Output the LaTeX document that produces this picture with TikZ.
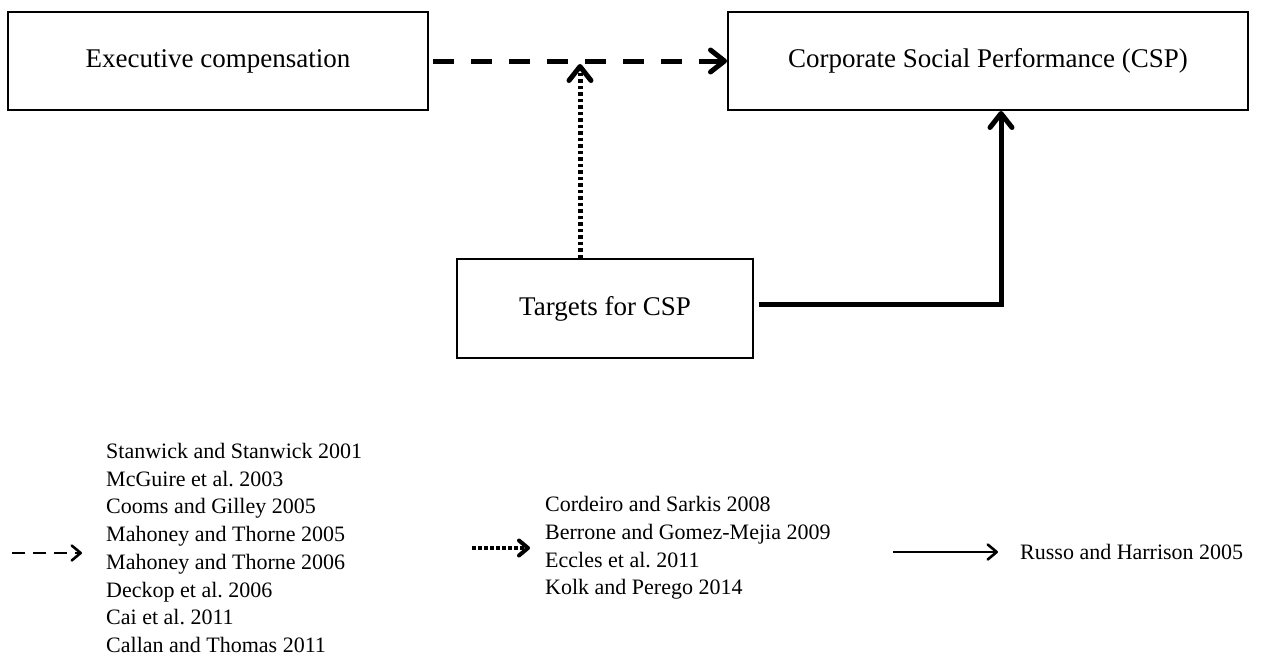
\documentclass[tikz,border=0pt]{standalone}
\usepackage{fontspec}
\setmainfont{Liberation Serif}
\usetikzlibrary{arrows.meta}
\frenchspacing
\tikzset{
  box/.style={draw, line width=2pt, minimum height=98pt, inner sep=0pt,
    font=\fontsize{27}{32}\selectfont},
  refs/.style={anchor=west, align=left, inner sep=0pt,
    font=\fontsize{22}{27.7}\selectfont},
  bigarrow/.style={line width=5pt, -{Straight Barb[length=14pt,width=22pt,round]}},
  smallarrow/.style={line width=2.6pt, -{Straight Barb[length=9pt,width=15pt,round]}},
}
\begin{document}
\begin{tikzpicture}[x=1pt, y=-1pt]
\useasboundingbox (0,0) rectangle (1280,665);
% boxes
\node[box, minimum width=420pt] (pay) at (218,61) {Executive compensation};
\node[box, minimum width=520pt] (csp) at (988,61) {Corporate Social Performance (CSP)};
\node[box, minimum width=296pt, minimum height=99pt] (tgt) at (605,308.5) {Targets for CSP};
\coordinate (meet) at (580,61);
\coordinate (turn) at (1001,0);
% links
\draw[bigarrow, dash pattern=on 21pt off 17pt, shorten <=4pt] (pay.east) -- (csp.west);
\draw[bigarrow, dash pattern=on 3.5pt off 3pt] (tgt.north -| meet) -- ([yshift=-3pt]meet);
\draw[bigarrow] ([xshift=5pt,yshift=4.5pt]tgt.east) -| (csp.south -| turn);
% legend
\node[refs] (dashrefs) at (106,548) {Stanwick and Stanwick 2001\\McGuire et al. 2003\\Cooms and Gilley 2005\\Mahoney and Thorne 2005\\Mahoney and Thorne 2006\\Deckop et al. 2006\\Cai et al. 2011\\Callan and Thomas 2011};
\node[refs] (dotrefs) at (545,548) {Cordeiro and Sarkis 2008\\Berrone and Gomez-Mejia 2009\\Eccles et al. 2011\\Kolk and Perego 2014};
\node[refs] (solidrefs) at (1020,552) {Russo and Harrison 2005};
\draw[smallarrow, dash pattern=on 13pt off 8pt] ([xshift=-94pt,yshift=-5pt]dashrefs.west) -- ([xshift=-24pt,yshift=-5pt]dashrefs.west);
\draw[smallarrow, line width=4pt, dash pattern=on 3.5pt off 2.5pt] ([xshift=-73pt]dotrefs.west) -- ([xshift=-15pt]dotrefs.west);
\draw[smallarrow] ([xshift=-127pt]solidrefs.west) -- ([xshift=-22pt]solidrefs.west);
\end{tikzpicture}
\end{document}
